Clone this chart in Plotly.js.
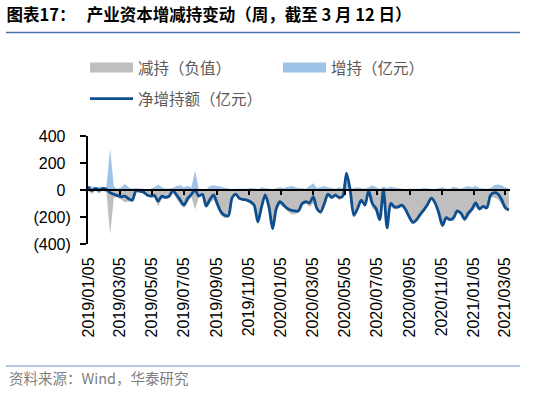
<!DOCTYPE html>
<html>
<head>
<meta charset="utf-8">
<script src="https://cdn.plot.ly/plotly-3.0.1.min.js"></script>
<style>
  html, body { margin: 0; padding: 0; background: #ffffff; }
  #chart { width: 550px; height: 396px; }
</style>
</head>
<body>
<div id="chart"></div>
<script>
// Weekly dates (Fridays)
const weeks = [
  '2019-01-04','2019-01-11','2019-01-18','2019-01-25','2019-02-01','2019-02-08','2019-02-15','2019-02-22',
  '2019-03-01','2019-03-08','2019-03-15','2019-03-22','2019-03-29','2019-04-05','2019-04-12','2019-04-19',
  '2019-04-26','2019-05-03','2019-05-10','2019-05-17','2019-05-24','2019-05-31','2019-06-07','2019-06-14',
  '2019-06-21','2019-06-28','2019-07-05','2019-07-12','2019-07-19','2019-07-26','2019-08-02','2019-08-09',
  '2019-08-16','2019-08-23','2019-08-30','2019-09-06','2019-09-13','2019-09-20','2019-09-27','2019-10-04',
  '2019-10-11','2019-10-18','2019-10-25','2019-11-01','2019-11-08','2019-11-15','2019-11-22','2019-11-29',
  '2019-12-06','2019-12-13','2019-12-20','2019-12-27',
  '2020-01-03','2020-01-10','2020-01-17','2020-01-24','2020-01-31','2020-02-07','2020-02-14','2020-02-21',
  '2020-02-28','2020-03-06','2020-03-13','2020-03-20','2020-03-27','2020-04-03','2020-04-10','2020-04-17',
  '2020-04-24','2020-05-01','2020-05-08','2020-05-15','2020-05-22','2020-05-29','2020-06-05','2020-06-12',
  '2020-06-19','2020-06-26','2020-07-03','2020-07-10','2020-07-17','2020-07-24','2020-07-31','2020-08-07',
  '2020-08-14','2020-08-21','2020-08-28','2020-09-04','2020-09-11','2020-09-18','2020-09-25','2020-10-02',
  '2020-10-09','2020-10-16','2020-10-23','2020-10-30','2020-11-06','2020-11-13','2020-11-20','2020-11-27',
  '2020-12-04','2020-12-11','2020-12-18','2020-12-25',
  '2021-01-01','2021-01-08','2021-01-15','2021-01-22','2021-01-29','2021-02-05','2021-02-12','2021-02-19',
  '2021-02-26','2021-03-05','2021-03-12'
];

// 增持（亿元）
const increase = [
  30,25,20,25,15,25,305,25,10,20,45,20,10,15,10,10,
  5,10,20,40,20,10,10,15,30,35,20,30,20,145,10,5,
  5,30,35,30,25,20,10,5,10,10,5,10,15,15,5,20,
  15,10,5,15,
  20,15,20,30,25,15,15,10,30,50,15,20,30,20,15,10,
  20,15,130,10,15,20,15,10,20,35,20,10,25,15,25,20,
  15,10,5,10,10,5,10,15,10,5,5,15,20,10,10,25,
  15,10,20,30,
  20,30,15,10,10,15,35,40,35,20,10
];

// 减持（负值）
const reduction = [
  -5,-30,-8,-25,-3,-20,-330,-57,-52,-70,-90,-85,-85,-20,-18,-25,
  -42,-55,-60,-122,-65,-65,-55,-20,-67,-110,-132,-92,-52,-145,-55,-37,
  -125,-100,-72,-130,-187,-207,-202,-65,-40,-72,-75,-85,-102,-127,-242,-145,
  -52,-135,-292,-152,
  -107,-127,-157,-180,-180,-170,-115,-97,-125,-100,-152,-182,-130,-50,-70,-47,
  -75,-60,-5,-10,-202,-157,-90,-122,-25,-135,-157,-230,-25,-295,-125,-145,
  -140,-122,-150,-210,-250,-225,-190,-160,-115,-65,-100,-185,-282,-215,-230,-230,
  -170,-182,-235,-200,
  -160,-125,-155,-132,-142,-55,-55,-68,-105,-150,-158
];

// 净增持额（亿元）
const net = [
  25,-5,12,0,12,5,-20,-32,-42,-50,-45,-65,-75,-5,-8,-15,
  -37,-45,-40,-82,-45,-55,-45,-5,-37,-75,-112,-62,-32,0,-45,-32,
  -120,-70,-37,-100,-162,-187,-192,-60,-30,-62,-70,-75,-87,-112,-237,-125,
  -37,-125,-287,-137,
  -87,-112,-137,-150,-155,-155,-100,-87,-95,-50,-137,-162,-100,-30,-55,-37,
  -55,-45,125,0,-187,-137,-75,-112,-5,-100,-137,-220,0,-280,-100,-125,
  -125,-112,-145,-200,-240,-220,-180,-145,-105,-60,-95,-170,-262,-205,-220,-205,
  -155,-172,-215,-170,
  -140,-95,-140,-122,-132,-40,-20,-28,-70,-130,-148
];

// Axis ticks
const xTickVals = ['2019-01-05','2019-03-05','2019-05-05','2019-07-05','2019-09-05','2019-11-05',
  '2020-01-05','2020-03-05','2020-05-05','2020-07-05','2020-09-05','2020-11-05','2021-01-05','2021-03-05'];
const xTickText = ['2019/01/05','2019/03/05','2019/05/05','2019/07/05','2019/09/05','2019/11/05',
  '2020/01/05','2020/03/05','2020/05/05','2020/07/05','2020/09/05','2020/11/05','2021/01/05','2021/03/05'];
const yTickVals = [-400, -200, 0, 200, 400];
const yTickText = ['(400)', '(200)', '0', '200', '400'];

const seriesNames = ['减持（负值）', '增持（亿元）', '净增持额（亿元）'];
const titleText = '<b>图表17：\u00a0\u00a0\u00a0产业资本增减持变动（周，截至 3 月 12 日）</b>';
const sourceText = '资料来源：Wind，华泰研究';

const colors = { reduce: '#BFBFBF', increase: '#9DC3E6', net: '#0F4E8E' };
const cjk = '"Noto Sans CJK SC", "Noto Sans", sans-serif';
const latin = '"Liberation Sans", Arial, sans-serif';
const xRange = ['2019-01-04', '2021-03-14'];

// Excel-style number format: positives padded with an invisible ")"
const yTickLabels = yTickText.map(t => t.startsWith('(') ? t : t + '<span style="color:rgba(0,0,0,0)">)</span>');

const traces = [
  {
    type: 'scatter', mode: 'lines', name: seriesNames[0], showlegend: false,
    x: weeks, y: reduction, fill: 'tozeroy', fillcolor: colors.reduce,
    line: { width: 0, color: colors.reduce }, xaxis: 'x', yaxis: 'y', hoverinfo: 'skip'
  },
  {
    type: 'scatter', mode: 'lines', name: seriesNames[1], showlegend: false,
    x: weeks, y: increase, fill: 'tozeroy', fillcolor: colors.increase,
    line: { width: 0, color: colors.increase }, xaxis: 'x', yaxis: 'y', hoverinfo: 'skip'
  },
  {
    type: 'scatter', mode: 'lines', name: seriesNames[2], legend: 'legend2',
    x: weeks, y: net,
    line: { width: 2.8, color: colors.net, shape: 'spline', smoothing: 0.8 },
    xaxis: 'x2', yaxis: 'y'
  },
  // legend swatches for the two area series (rectangular keys as in the original)
  {
    type: 'scatter', mode: 'lines', name: seriesNames[0], legend: 'legend',
    x: [null], y: [null], line: { width: 10, color: colors.reduce }, xaxis: 'x', yaxis: 'y'
  },
  {
    type: 'scatter', mode: 'lines', name: seriesNames[1], legend: 'legend',
    x: [null], y: [null], line: { width: 10, color: colors.increase }, xaxis: 'x', yaxis: 'y'
  }
];

const legendFont = { family: cjk, size: 15.5, color: '#595959' };

const layout = {
  width: 550, height: 396,
  paper_bgcolor: '#ffffff', plot_bgcolor: 'rgba(0,0,0,0)',
  margin: { l: 88, r: 40, t: 136, b: 152 },
  title: {
    text: titleText, xref: 'container', yref: 'container',
    x: 0.012, xanchor: 'left', y: 1 - 15 / 396, yanchor: 'middle',
    font: { family: cjk, size: 16.5, color: '#000000' }
  },
  showlegend: true,
  legend: {
    orientation: 'h', x: (85 - 88) / 422, xanchor: 'left', y: (244 - 68) / 108, yanchor: 'middle',
    font: legendFont, itemwidth: 43, entrywidth: 135,
    bgcolor: 'rgba(0,0,0,0)', traceorder: 'normal'
  },
  legend2: {
    orientation: 'h', x: (85 - 88) / 422, xanchor: 'left', y: (244 - 99) / 108, yanchor: 'middle',
    font: legendFont, itemwidth: 43,
    bgcolor: 'rgba(0,0,0,0)'
  },
  xaxis: {
    type: 'date', range: xRange, anchor: 'y',
    tickvals: xTickVals, ticktext: xTickText, tickangle: -90,
    ticks: 'outside', ticklen: 6, tickcolor: 'rgba(0,0,0,0)',
    showline: false, showgrid: false, zeroline: false,
    tickfont: { family: latin, size: 16, color: '#000000' }
  },
  xaxis2: {
    type: 'date', range: xRange, overlaying: 'x', matches: 'x',
    anchor: 'free', position: 0.5, side: 'bottom',
    tickvals: xTickVals.slice(1), showticklabels: false,
    ticks: 'outside', ticklen: 4, tickwidth: 2, tickcolor: '#000000',
    showline: true, linecolor: '#000000', linewidth: 2,
    showgrid: false, zeroline: false, layer: 'above traces'
  },
  yaxis: {
    range: [-400, 400], tickvals: yTickVals, ticktext: yTickLabels,
    ticks: 'outside', ticklen: 6, tickwidth: 2, tickcolor: '#000000',
    ticklabelstandoff: 6,
    showline: true, linecolor: '#000000', linewidth: 2,
    showgrid: false, zeroline: false,
    tickfont: { family: latin, size: 16, color: '#000000' }
  },
  shapes: [
    { type: 'line', xref: 'paper', yref: 'paper',
      x0: (6 - 88) / 422, x1: (520 - 88) / 422, y0: (244 - 32.5) / 108, y1: (244 - 32.5) / 108,
      line: { color: '#4A72AE', width: 1.6 } },
    { type: 'line', xref: 'paper', yref: 'paper',
      x0: (6 - 88) / 422, x1: (520 - 88) / 422, y0: (244 - 366) / 108, y1: (244 - 366) / 108,
      line: { color: '#6F8FC0', width: 1.2 } }
  ],
  annotations: [
    { text: sourceText, xref: 'paper', yref: 'paper',
      x: (7 - 88) / 422, y: (244 - 377) / 108, xanchor: 'left', yanchor: 'middle',
      showarrow: false, font: { family: cjk, size: 14.5, color: '#7F7F7F' } }
  ]
};

Plotly.newPlot('chart', traces, layout, { displayModeBar: false, staticPlot: true });
</script>
</body>
</html>
